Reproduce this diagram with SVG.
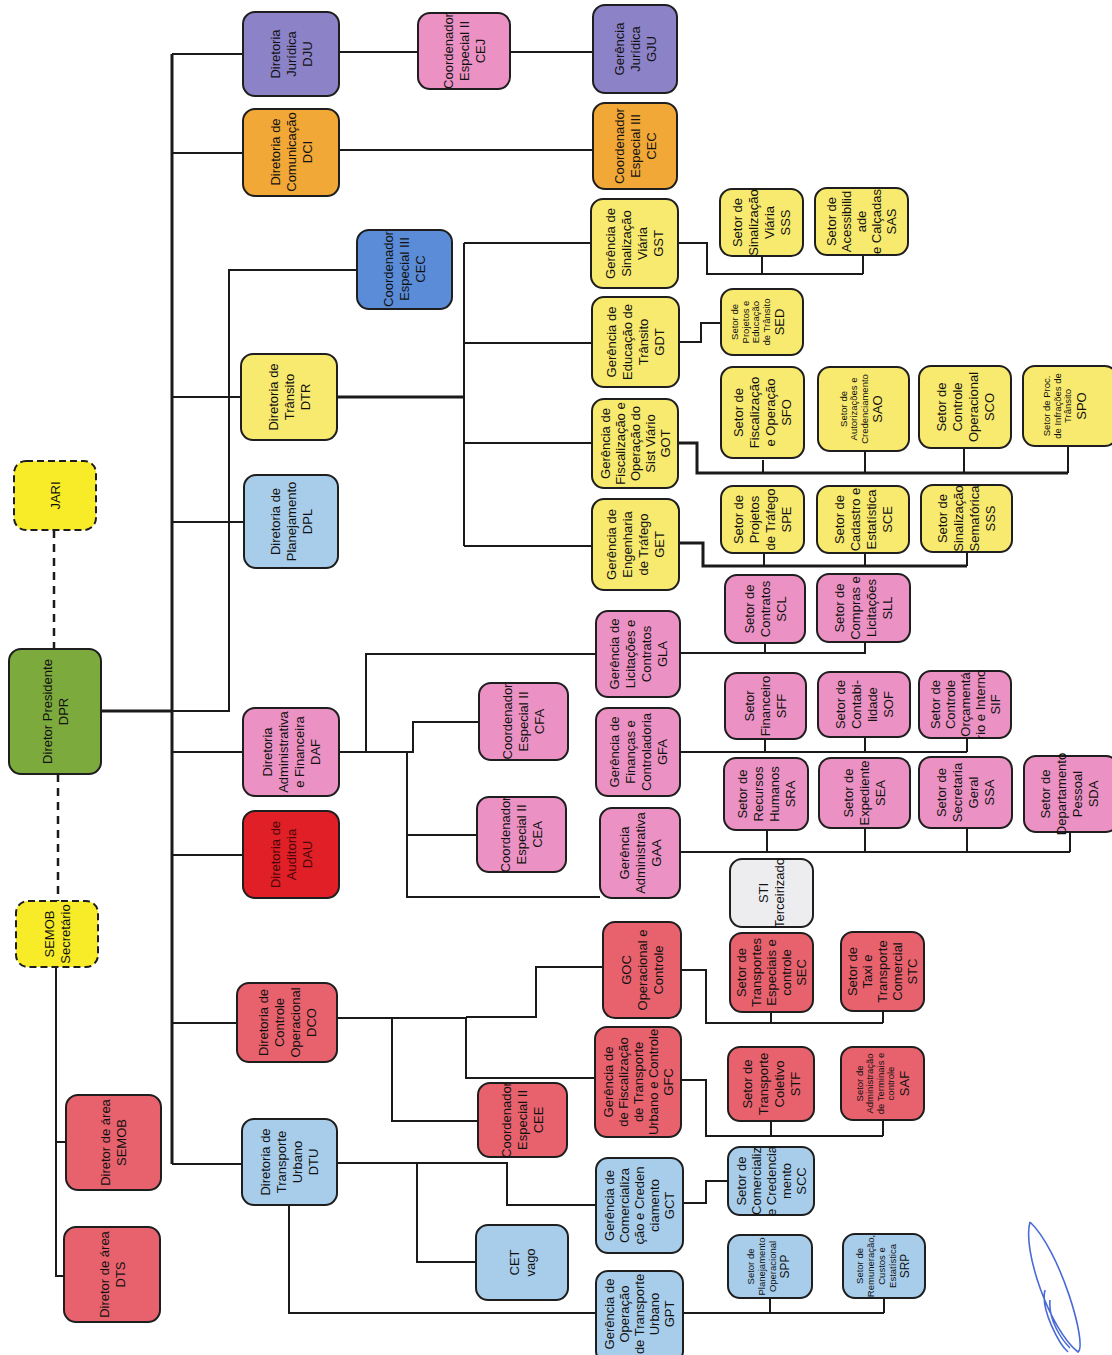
<svg xmlns="http://www.w3.org/2000/svg" width="1112" height="1355" viewBox="0 0 1112 1355">
<style>
.n{stroke:#1e1e1e;stroke-width:2}
.pu{fill:#8c82c8}.pk{fill:#eb91c3}.or{fill:#f2a837}.bl{fill:#5a8cd7}.ye{fill:#f8ea6e}.lb{fill:#a8cdeb}.gr{fill:#7daa3c}.jy{fill:#f8ec28;stroke-dasharray:7 4}.rd{fill:#e01f26}.sa{fill:#e8626e}.gy{fill:#ededf0}
text{font-family:"Liberation Sans",Arial,sans-serif;font-size:13px;fill:#111;text-anchor:middle}
.sm{font-size:9.5px}
.md{font-size:12px}
.dk{fill:#4a0606}
.c{fill:none;stroke:#1a1a1a;stroke-width:2}
.ck{fill:none;stroke:#1a1a1a;stroke-width:3}
.cd{fill:none;stroke:#1a1a1a;stroke-width:2.5;stroke-dasharray:8 6}
</style>
<rect width="1112" height="1355" fill="#ffffff"/>
<g id="connectors">
<path class="ck" d="M172,54 V1164"/>
<path class="c" d="M172,54 H243 M172,153 H243 M172,397 H241 M172,522 H244 M172,752 H243 M172,855 H243 M172,1023 H237 M172,1164 H242"/>
<path class="ck" d="M101,711 H172"/>
<path class="c" d="M172,711 H229 V270 H357"/>
<path class="c" d="M339,52 H418 M510,52 H593 M339,150 H593"/>
<path class="ck" d="M336,397 H464"/>
<path class="c" d="M464,243 V546 M464,243 H591 M464,343 H592 M464,443 H592 M464,546 H592"/>
<path class="c" d="M678,243 H707 V274 H863 M762,256 V274 M863,255 V274"/>
<path class="c" d="M679,342 H701 V323 H721"/>
<path class="ck" d="M678,443 H697 V473 H1068"/>
<path class="c" d="M763,460 V473 M865,451 V473 M964,448 V473 M1068,446 V473"/>
<path class="ck" d="M679,543 H703 V566 H967"/>
<path class="c" d="M764,553 V566 M865,553 V566 M967,552 V566"/>
<path class="c" d="M339,752 H413 V722 H479 M366,752 V654 H596 M407,752 V897 H600 M407,835 H477"/>
<path class="c" d="M680,653 H866 M765,643 V653 M865,642 V653"/>
<path class="c" d="M680,752 H967 M765,739 V752 M865,737 V752 M967,738 V752"/>
<path class="c" d="M680,852 H1070 M767,830 V852 M865,828 V852 M967,828 V852 M1070,832 V852"/>
<path class="c" d="M337,1018 H466 V1078 H595 M392,1018 V1121 H478 M466,1017 H536 V967 H603"/>
<path class="c" d="M681,970 H706 V1023 H883 M771,1012 V1023 M883,1011 V1023"/>
<path class="c" d="M681,1080 H706 V1136 H883 M771,1121 V1136 M883,1120 V1136"/>
<path class="c" d="M337,1163 H507 V1205 H596 M417,1163 V1262 H476 M289,1205 V1313 H596"/>
<path class="c" d="M683,1203 H706 V1181 H728"/>
<path class="c" d="M683,1313 H884 M770,1298 V1313 M884,1298 V1313"/>
<path class="c" d="M56,967 V1276 H64 M56,1142 H66"/>
<path class="cd" d="M54,530 V649 M58,774 V901"/>
</g>

<g id="DJU"><rect class="n pu" x="243" y="12" width="96" height="84" rx="12"/><text transform="translate(291,54) rotate(-90)"><tspan x="0" y="-11.4">Diretoria</tspan><tspan x="0" y="4.6">Jurídica</tspan><tspan x="0" y="20.6">DJU</tspan></text></g>
<g id="CEJ"><rect class="n pk" x="418" y="13" width="92" height="76" rx="12"/><text transform="translate(464,51) rotate(-90)"><tspan x="0" y="-11.4">Coordenador</tspan><tspan x="0" y="4.6">Especial II</tspan><tspan x="0" y="20.6">CEJ</tspan></text></g>
<g id="GJU"><rect class="n pu" x="593" y="5" width="84" height="88" rx="12"/><text transform="translate(635,49) rotate(-90)"><tspan x="0" y="-11.4">Gerência</tspan><tspan x="0" y="4.6">Jurídica</tspan><tspan x="0" y="20.6">GJU</tspan></text></g>
<g id="DCI"><rect class="n or" x="243" y="109" width="96" height="87" rx="12"/><text transform="translate(291,152) rotate(-90)"><tspan x="0" y="-11.4">Diretoria de</tspan><tspan x="0" y="4.6">Comunicação</tspan><tspan x="0" y="20.6">DCI</tspan></text></g>
<g id="CEC_DCI"><rect class="n or" x="593" y="103" width="84" height="86" rx="12"/><text transform="translate(635,146) rotate(-90)"><tspan x="0" y="-11.4">Coordenador</tspan><tspan x="0" y="4.6">Especial III</tspan><tspan x="0" y="20.6">CEC</tspan></text></g>
<g id="CEC_DPR"><rect class="n bl" x="357" y="230" width="95" height="79" rx="12"/><text transform="translate(404.5,269) rotate(-90)"><tspan x="0" y="-11.4">Coordenador</tspan><tspan x="0" y="4.6">Especial III</tspan><tspan x="0" y="20.6">CEC</tspan></text></g>
<g id="GST"><rect class="n ye" x="591" y="199" width="87" height="89" rx="12"/><text transform="translate(634.5,243.5) rotate(-90)"><tspan x="0" y="-19.4">Gerência de</tspan><tspan x="0" y="-3.4">Sinalização</tspan><tspan x="0" y="12.6">Viária</tspan><tspan x="0" y="28.6">GST</tspan></text></g>
<g id="SSS_V"><rect class="n ye" x="720" y="189" width="83" height="67" rx="12"/><text transform="translate(761.5,222.5) rotate(-90)"><tspan x="0" y="-19.4">Setor de</tspan><tspan x="0" y="-3.4">Sinalização</tspan><tspan x="0" y="12.6">Viária</tspan><tspan x="0" y="28.6">SSS</tspan></text></g>
<g id="SAS"><rect class="n ye" x="815" y="188" width="93" height="67" rx="12"/><text transform="translate(861.5,221.5) rotate(-90)"><tspan x="0" y="-25.4">Setor de</tspan><tspan x="0" y="-10.4">Acessibilid</tspan><tspan x="0" y="4.6">ade</tspan><tspan x="0" y="19.6">e Calçadas</tspan><tspan x="0" y="34.6">SAS</tspan></text></g>
<g id="GDT"><rect class="n ye" x="592" y="297" width="87" height="90" rx="12"/><text transform="translate(635.5,342) rotate(-90)"><tspan x="0" y="-19.4">Gerência de</tspan><tspan x="0" y="-3.4">Educação de</tspan><tspan x="0" y="12.6">Trânsito</tspan><tspan x="0" y="28.6">GDT</tspan></text></g>
<g id="SED"><rect class="n ye" x="721" y="289" width="82" height="66" rx="12"/><text transform="translate(762,322) rotate(-90)"><tspan class="sm" x="0" y="-24">Setor de</tspan><tspan class="sm" x="0" y="-13.5">Projetos e</tspan><tspan class="sm" x="0" y="-3">Educação</tspan><tspan class="sm" x="0" y="7.5">de Trânsito</tspan><tspan x="0" y="22">SED</tspan></text></g>
<g id="GOT"><rect class="n ye" x="592" y="399" width="86" height="89" rx="12"/><text transform="translate(635,443.5) rotate(-90)"><tspan x="0" y="-25.4">Gerência de</tspan><tspan x="0" y="-10.4">Fiscalização e</tspan><tspan x="0" y="4.6">Operação do</tspan><tspan x="0" y="19.6">Sist Viário</tspan><tspan x="0" y="34.6">GOT</tspan></text></g>
<g id="SFO"><rect class="n ye" x="721" y="367" width="83" height="91" rx="12"/><text transform="translate(762.5,412.5) rotate(-90)"><tspan x="0" y="-19.4">Setor de</tspan><tspan x="0" y="-3.4">Fiscalização</tspan><tspan x="0" y="12.6">e Operação</tspan><tspan x="0" y="28.6">SFO</tspan></text></g>
<g id="SAO"><rect class="n ye" x="818" y="367" width="91" height="84" rx="12"/><text transform="translate(863.5,409) rotate(-90)"><tspan class="sm" x="0" y="-17">Setor de</tspan><tspan class="sm" x="0" y="-6.5">Autorizações e</tspan><tspan class="sm" x="0" y="4">Credenciamento</tspan><tspan x="0" y="18.5">SAO</tspan></text></g>
<g id="SCO"><rect class="n ye" x="919" y="366" width="92" height="82" rx="12"/><text transform="translate(965,407) rotate(-90)"><tspan x="0" y="-19.4">Setor de</tspan><tspan x="0" y="-3.4">Controle</tspan><tspan x="0" y="12.6">Operacional</tspan><tspan x="0" y="28.6">SCO</tspan></text></g>
<g id="SPO"><rect class="n ye" x="1023" y="366" width="94" height="80" rx="12"/><text transform="translate(1067,406) rotate(-90)"><tspan class="sm" x="0" y="-17">Setor de Proc.</tspan><tspan class="sm" x="0" y="-6.5">de Infrações de</tspan><tspan class="sm" x="0" y="4">Trânsito</tspan><tspan x="0" y="18.5">SPO</tspan></text></g>
<g id="DTR"><rect class="n ye" x="241" y="354" width="96" height="86" rx="12"/><text transform="translate(289,397) rotate(-90)"><tspan x="0" y="-11.4">Diretoria de</tspan><tspan x="0" y="4.6">Trânsito</tspan><tspan x="0" y="20.6">DTR</tspan></text></g>
<g id="DPL"><rect class="n lb" x="244" y="475" width="94" height="93" rx="12"/><text transform="translate(291,521.5) rotate(-90)"><tspan x="0" y="-11.4">Diretoria de</tspan><tspan x="0" y="4.6">Planejamento</tspan><tspan x="0" y="20.6">DPL</tspan></text></g>
<g id="JARI"><rect class="n jy" x="14" y="461" width="82" height="69" rx="12"/><text transform="translate(55,495.5) rotate(-90)"><tspan x="0" y="4.6">JARI</tspan></text></g>
<g id="GET"><rect class="n ye" x="592" y="499" width="87" height="91" rx="12"/><text transform="translate(635.5,544.5) rotate(-90)"><tspan x="0" y="-19.4">Gerência de</tspan><tspan x="0" y="-3.4">Engenharia</tspan><tspan x="0" y="12.6">de Tráfego</tspan><tspan x="0" y="28.6">GET</tspan></text></g>
<g id="SPE"><rect class="n ye" x="721" y="486" width="83" height="67" rx="12"/><text transform="translate(762.5,519.5) rotate(-90)"><tspan x="0" y="-19.4">Setor de</tspan><tspan x="0" y="-3.4">Projetos</tspan><tspan x="0" y="12.6">de Tráfego</tspan><tspan x="0" y="28.6">SPE</tspan></text></g>
<g id="SCE"><rect class="n ye" x="817" y="486" width="92" height="67" rx="12"/><text transform="translate(863,519.5) rotate(-90)"><tspan x="0" y="-19.4">Setor de</tspan><tspan x="0" y="-3.4">Cadastro e</tspan><tspan x="0" y="12.6">Estatística</tspan><tspan x="0" y="28.6">SCE</tspan></text></g>
<g id="SSS_S"><rect class="n ye" x="921" y="485" width="91" height="67" rx="12"/><text transform="translate(966.5,518.5) rotate(-90)"><tspan x="0" y="-19.4">Setor de</tspan><tspan x="0" y="-3.4">Sinalização</tspan><tspan x="0" y="12.6">Semafórica</tspan><tspan x="0" y="28.6">SSS</tspan></text></g>
<g id="DPR"><rect class="n gr" x="9" y="649" width="92" height="125" rx="12"/><text transform="translate(55,711.5) rotate(-90)"><tspan x="0" y="-3.4">Diretor Presidente</tspan><tspan x="0" y="12.6">DPR</tspan></text></g>
<g id="GLA"><rect class="n pk" x="596" y="611" width="84" height="86" rx="12"/><text transform="translate(638,654) rotate(-90)"><tspan x="0" y="-19.4">Gerência de</tspan><tspan x="0" y="-3.4">Licitações e</tspan><tspan x="0" y="12.6">Contratos</tspan><tspan x="0" y="28.6">GLA</tspan></text></g>
<g id="SCL"><rect class="n pk" x="725" y="575" width="80" height="68" rx="12"/><text transform="translate(765,609) rotate(-90)"><tspan x="0" y="-11.4">Setor de</tspan><tspan x="0" y="4.6">Contratos</tspan><tspan x="0" y="20.6">SCL</tspan></text></g>
<g id="SLL"><rect class="n pk" x="817" y="574" width="93" height="68" rx="12"/><text transform="translate(863.5,608) rotate(-90)"><tspan x="0" y="-19.4">Setor de</tspan><tspan x="0" y="-3.4">Compras e</tspan><tspan x="0" y="12.6">Licitações</tspan><tspan x="0" y="28.6">SLL</tspan></text></g>
<g id="CFA"><rect class="n pk" x="479" y="683" width="89" height="77" rx="12"/><text transform="translate(523.5,721.5) rotate(-90)"><tspan x="0" y="-11.4">Coordenador</tspan><tspan x="0" y="4.6">Especial II</tspan><tspan x="0" y="20.6">CFA</tspan></text></g>
<g id="DAF"><rect class="n pk" x="243" y="708" width="96" height="88" rx="12"/><text transform="translate(291,752) rotate(-90)"><tspan x="0" y="-19.4">Diretoria</tspan><tspan x="0" y="-3.4">Administrativa</tspan><tspan x="0" y="12.6">e Financeira</tspan><tspan x="0" y="28.6">DAF</tspan></text></g>
<g id="GFA"><rect class="n pk" x="596" y="708" width="84" height="88" rx="12"/><text transform="translate(638,752) rotate(-90)"><tspan x="0" y="-19.4">Gerência de</tspan><tspan x="0" y="-3.4">Finanças e</tspan><tspan x="0" y="12.6">Controladoria</tspan><tspan x="0" y="28.6">GFA</tspan></text></g>
<g id="SFF"><rect class="n pk" x="725" y="673" width="81" height="66" rx="12"/><text transform="translate(765.5,706) rotate(-90)"><tspan x="0" y="-11.4">Setor</tspan><tspan x="0" y="4.6">Financeiro</tspan><tspan x="0" y="20.6">SFF</tspan></text></g>
<g id="SOF"><rect class="n pk" x="818" y="672" width="92" height="65" rx="12"/><text transform="translate(864,704.5) rotate(-90)"><tspan x="0" y="-19.4">Setor de</tspan><tspan x="0" y="-3.4">Contabi-</tspan><tspan x="0" y="12.6">lidade</tspan><tspan x="0" y="28.6">SOF</tspan></text></g>
<g id="SIF"><rect class="n pk" x="919" y="671" width="92" height="67" rx="12"/><text transform="translate(965,704.5) rotate(-90)"><tspan x="0" y="-25.4">Setor de</tspan><tspan x="0" y="-10.4">Controle</tspan><tspan x="0" y="4.6">Orçamentá</tspan><tspan x="0" y="19.6">rio e Interno</tspan><tspan x="0" y="34.6">SIF</tspan></text></g>
<g id="CEA"><rect class="n pk" x="477" y="797" width="89" height="75" rx="12"/><text transform="translate(521.5,834.5) rotate(-90)"><tspan x="0" y="-11.4">Coordenador</tspan><tspan x="0" y="4.6">Especial II</tspan><tspan x="0" y="20.6">CEA</tspan></text></g>
<g id="DAU"><rect class="n rd" x="243" y="811" width="96" height="87" rx="12"/><text class="dk" transform="translate(291,854.5) rotate(-90)"><tspan x="0" y="-11.4">Diretoria de</tspan><tspan x="0" y="4.6">Auditoria</tspan><tspan x="0" y="20.6">DAU</tspan></text></g>
<g id="GAA"><rect class="n pk" x="600" y="808" width="80" height="90" rx="12"/><text transform="translate(640,853) rotate(-90)"><tspan x="0" y="-11.4">Gerência</tspan><tspan x="0" y="4.6">Administrativa</tspan><tspan x="0" y="20.6">GAA</tspan></text></g>
<g id="SRA"><rect class="n pk" x="724" y="758" width="84" height="72" rx="12"/><text transform="translate(766,794) rotate(-90)"><tspan x="0" y="-19.4">Setor de</tspan><tspan x="0" y="-3.4">Recursos</tspan><tspan x="0" y="12.6">Humanos</tspan><tspan x="0" y="28.6">SRA</tspan></text></g>
<g id="SEA"><rect class="n pk" x="819" y="758" width="91" height="70" rx="12"/><text transform="translate(864.5,793) rotate(-90)"><tspan x="0" y="-11.4">Setor de</tspan><tspan x="0" y="4.6">Expediente</tspan><tspan x="0" y="20.6">SEA</tspan></text></g>
<g id="SSA"><rect class="n pk" x="919" y="757" width="93" height="71" rx="12"/><text transform="translate(965.5,792.5) rotate(-90)"><tspan x="0" y="-19.4">Setor de</tspan><tspan x="0" y="-3.4">Secretaria</tspan><tspan x="0" y="12.6">Geral</tspan><tspan x="0" y="28.6">SSA</tspan></text></g>
<g id="SDA"><rect class="n pk" x="1024" y="756" width="94" height="76" rx="12"/><text transform="translate(1069,794) rotate(-90)"><tspan x="0" y="-19.4">Setor de</tspan><tspan x="0" y="-3.4">Departamento</tspan><tspan x="0" y="12.6">Pessoal</tspan><tspan x="0" y="28.6">SDA</tspan></text></g>
<g id="STI"><rect class="n gy" x="730" y="859" width="83" height="68" rx="12"/><text transform="translate(771.5,893) rotate(-90)"><tspan x="0" y="-3.4">STI</tspan><tspan x="0" y="12.6">Terceirizado</tspan></text></g>
<g id="SEMOB"><rect class="n jy" x="16" y="901" width="82" height="66" rx="12"/><text transform="translate(57,934) rotate(-90)"><tspan x="0" y="-3.4">SEMOB</tspan><tspan x="0" y="12.6">Secretário</tspan></text></g>
<g id="GOC"><rect class="n sa" x="603" y="922" width="78" height="96" rx="12"/><text transform="translate(642,970) rotate(-90)"><tspan x="0" y="-11.4">GOC</tspan><tspan x="0" y="4.6">Operacional e</tspan><tspan x="0" y="20.6">Controle</tspan></text></g>
<g id="SEC"><rect class="n sa" x="730" y="933" width="83" height="79" rx="12"/><text transform="translate(771.5,972.5) rotate(-90)"><tspan x="0" y="-25.4">Setor de</tspan><tspan x="0" y="-10.4">Transportes</tspan><tspan x="0" y="4.6">Especiais e</tspan><tspan x="0" y="19.6">controle</tspan><tspan x="0" y="34.6">SEC</tspan></text></g>
<g id="STC"><rect class="n sa" x="841" y="932" width="83" height="79" rx="12"/><text transform="translate(882.5,971.5) rotate(-90)"><tspan x="0" y="-25.4">Setor de</tspan><tspan x="0" y="-10.4">Taxi e</tspan><tspan x="0" y="4.6">Transporte</tspan><tspan x="0" y="19.6">Comercial</tspan><tspan x="0" y="34.6">STC</tspan></text></g>
<g id="DCO"><rect class="n sa" x="237" y="983" width="100" height="79" rx="12"/><text transform="translate(287,1022.5) rotate(-90)"><tspan x="0" y="-19.4">Diretoria de</tspan><tspan x="0" y="-3.4">Controle</tspan><tspan x="0" y="12.6">Operacional</tspan><tspan x="0" y="28.6">DCO</tspan></text></g>
<g id="GFC"><rect class="n sa" x="595" y="1027" width="86" height="110" rx="12"/><text transform="translate(638,1082) rotate(-90)"><tspan x="0" y="-25.4">Gerência de</tspan><tspan x="0" y="-10.4">de Fiscalização</tspan><tspan x="0" y="4.6">de Transporte</tspan><tspan x="0" y="19.6">Urbano e Controle</tspan><tspan x="0" y="34.6">GFC</tspan></text></g>
<g id="STF"><rect class="n sa" x="728" y="1047" width="86" height="74" rx="12"/><text transform="translate(771,1084) rotate(-90)"><tspan x="0" y="-19.4">Setor de</tspan><tspan x="0" y="-3.4">Transporte</tspan><tspan x="0" y="12.6">Coletivo</tspan><tspan x="0" y="28.6">STF</tspan></text></g>
<g id="SAF"><rect class="n sa" x="841" y="1047" width="83" height="73" rx="12"/><text transform="translate(882.5,1083.5) rotate(-90)"><tspan class="sm" x="0" y="-20">Setor de</tspan><tspan class="sm" x="0" y="-9.5">Administração</tspan><tspan class="sm" x="0" y="1">de Terminais e</tspan><tspan class="sm" x="0" y="11.5">controle</tspan><tspan x="0" y="26">SAF</tspan></text></g>
<g id="CEE"><rect class="n sa" x="478" y="1083" width="89" height="74" rx="12"/><text transform="translate(522.5,1120) rotate(-90)"><tspan x="0" y="-11.4">Coordenador</tspan><tspan x="0" y="4.6">Especial II</tspan><tspan x="0" y="20.6">CEE</tspan></text></g>
<g id="DTU"><rect class="n lb" x="242" y="1119" width="95" height="86" rx="12"/><text transform="translate(289.5,1162) rotate(-90)"><tspan x="0" y="-19.4">Diretoria de</tspan><tspan x="0" y="-3.4">Transporte</tspan><tspan x="0" y="12.6">Urbano</tspan><tspan x="0" y="28.6">DTU</tspan></text></g>
<g id="GCT"><rect class="n lb" x="596" y="1158" width="87" height="95" rx="12"/><text transform="translate(639.5,1205.5) rotate(-90)"><tspan x="0" y="-25.4">Gerência de</tspan><tspan x="0" y="-10.4">Comercializa</tspan><tspan x="0" y="4.6">ção e Creden</tspan><tspan x="0" y="19.6">ciamento</tspan><tspan x="0" y="34.6">GCT</tspan></text></g>
<g id="SCC"><rect class="n lb" x="728" y="1147" width="86" height="68" rx="12"/><text transform="translate(771,1181) rotate(-90)"><tspan x="0" y="-25.4">Setor de</tspan><tspan x="0" y="-10.4">Comercializ</tspan><tspan x="0" y="4.6">e Credencia</tspan><tspan x="0" y="19.6">mento</tspan><tspan x="0" y="34.6">SCC</tspan></text></g>
<g id="CET"><rect class="n lb" x="476" y="1225" width="92" height="75" rx="12"/><text transform="translate(522,1262.5) rotate(-90)"><tspan x="0" y="-3.4">CET</tspan><tspan x="0" y="12.6">vago</tspan></text></g>
<g id="GPT"><rect class="n lb" x="596" y="1271" width="87" height="92" rx="12"/><text transform="translate(639.5,1314) rotate(-90)"><tspan x="0" y="-25.4">Gerência de</tspan><tspan x="0" y="-10.4">Operação</tspan><tspan x="0" y="4.6">de Transporte</tspan><tspan x="0" y="19.6">Urbano</tspan><tspan x="0" y="34.6">GPT</tspan></text></g>
<g id="SPP"><rect class="n lb" x="728" y="1235" width="84" height="63" rx="12"/><text transform="translate(770,1266.5) rotate(-90)"><tspan class="sm" x="0" y="-16">Setor de</tspan><tspan class="sm" x="0" y="-5">Planejamento</tspan><tspan class="sm" x="0" y="6">Operacional</tspan><tspan class="md" x="0" y="19">SPP</tspan></text></g>
<g id="SRP"><rect class="n lb" x="843" y="1234" width="82" height="64" rx="12"/><text transform="translate(884,1266) rotate(-90)"><tspan class="sm" x="0" y="-21">Setor de</tspan><tspan class="sm" x="0" y="-10">Remuneração,</tspan><tspan class="sm" x="0" y="1">Custos e</tspan><tspan class="sm" x="0" y="12">Estatística</tspan><tspan class="md" x="0" y="25">SRP</tspan></text></g>
<g id="DA_SEMOB"><rect class="n sa" x="66" y="1095" width="95" height="95" rx="12"/><text transform="translate(113.5,1142.5) rotate(-90)"><tspan x="0" y="-3.4">Diretor de área</tspan><tspan x="0" y="12.6">SEMOB</tspan></text></g>
<g id="DA_DTS"><rect class="n sa" x="64" y="1227" width="96" height="95" rx="12"/><text transform="translate(112,1274.5) rotate(-90)"><tspan x="0" y="-3.4">Diretor de área</tspan><tspan x="0" y="12.6">DTS</tspan></text></g>
<path d="M1030,1222 C1022,1250 1050,1330 1078,1352 C1088,1345 1060,1250 1030,1222 M1045,1290 C1040,1310 1060,1345 1068,1352 M1050,1300 C1048,1320 1062,1340 1070,1348" fill="none" stroke="#4a6bd6" stroke-width="1.6"/>
</svg>
